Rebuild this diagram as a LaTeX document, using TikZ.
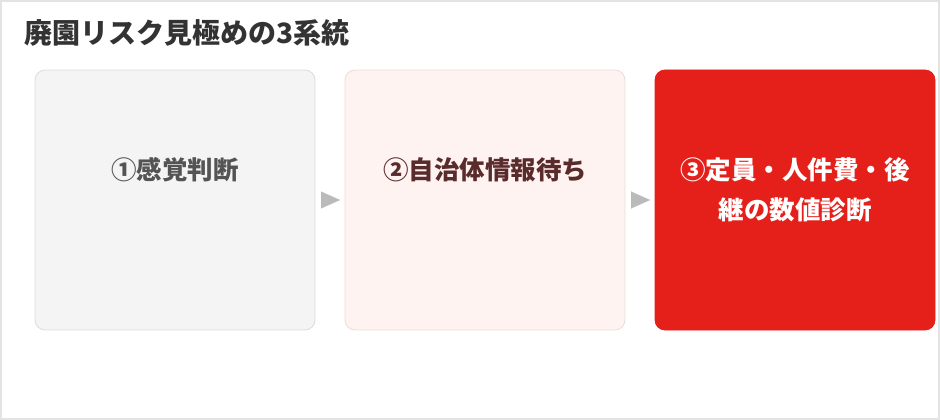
\documentclass[tikz,border=0pt]{standalone}
\usepackage{fontspec}
\setmainfont{Noto Sans CJK JP}
\usetikzlibrary{positioning,arrows.meta}
\definecolor{frame}{HTML}{E3E3E3}
\definecolor{greyfill}{HTML}{F4F4F4}
\definecolor{greyline}{HTML}{DCDCDC}
\definecolor{pinkfill}{HTML}{FFF3F1}
\definecolor{pinkline}{HTML}{EBDCD9}
\definecolor{riskred}{HTML}{E51F19}
\definecolor{maroon}{HTML}{5A2B2B}

\begin{document}
\begin{tikzpicture}[x=1pt,y=-1pt,
  panel/.style={rounded corners=10pt, minimum width=280pt, minimum height=260pt,
    inner sep=0pt, outer sep=0pt, line width=.8pt},
  caption/.style={font=\fontsize{25.5}{40}\selectfont\bfseries, align=center,
    anchor=north, inner sep=0pt},
  flow/.style={-{Triangle[length=19pt,width=17pt]}, draw=black!27, line width=.1pt,
    shorten <=6pt, shorten >=5pt}]
\useasboundingbox (0,0) rectangle (940,420);
\draw[frame, line width=2pt] (1,1) rectangle (939,419);
\node[anchor=west, inner sep=0pt, text=black!80,
  font=\fontsize{28}{32}\selectfont\bfseries] (title) at (24,33) {廃園リスク見極めの3系統};

\node[panel, draw=greyline, fill=greyfill] (b1) at (175,200) {};
\node[panel, draw=pinkline, fill=pinkfill, right=30pt of b1] (b2) {};
\node[panel, draw=riskred, fill=riskred, right=30pt of b2] (b3) {};

\node[caption, text=black!67] (t1) at ([yshift=43pt]b1.center) {①感覚判断};
\node[caption, text=maroon] (t2) at ([yshift=43pt]b2.center) {②自治体情報待ち};
\node[caption, text=white] (t3) at ([yshift=43pt]b3.center) {③定員・人件費・後\\継の数値診断};

\draw[flow] (b1.east) -- (b2.west);
\draw[flow] (b2.east) -- (b3.west);
\end{tikzpicture}
\end{document}
